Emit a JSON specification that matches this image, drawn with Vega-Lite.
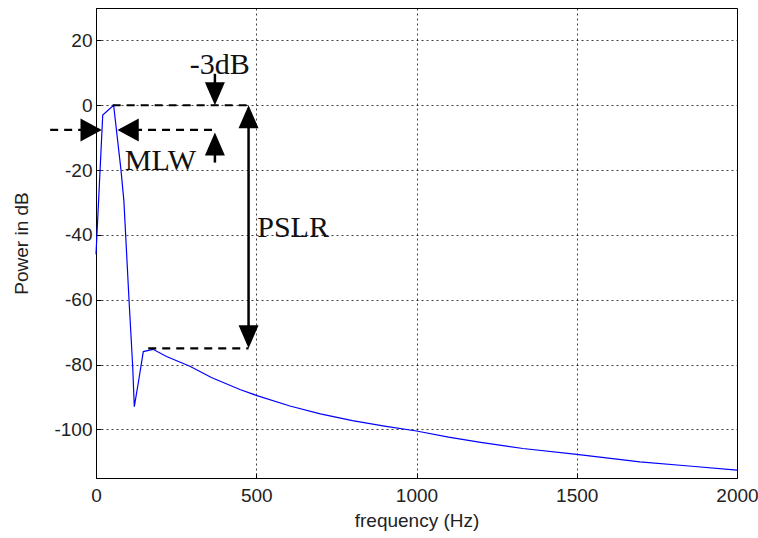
{
  "$schema": "https://vega.github.io/schema/vega-lite/v6.json",
  "width": 641,
  "height": 470,
  "autosize": "none",
  "padding": {"left": 96, "top": 8, "right": 21, "bottom": 60},
  "background": "white",
  "config": {
    "view": {"stroke": "black", "strokeWidth": 1},
    "axis": {
      "domainColor": "black",
      "tickColor": "black",
      "tickSize": -5,
      "labelColor": "#222",
      "titleColor": "#222",
      "labelFont": "Liberation Sans",
      "titleFont": "Liberation Sans",
      "labelFontSize": 19,
      "titleFontSize": 19,
      "titleFontWeight": "normal",
      "labelFlush": false,
      "labelOverlap": false,
      "labelBound": false,
      "labelExpr": "datum.value + ''",
      "gridColor": "black",
      "gridDash": [2, 3],
      "gridOpacity": 0.75,
      "gridWidth": 1
    }
  },
  "datasets": {
    "curve": [
      {"f": 0, "db": -46}, {"f": 21, "db": -3}, {"f": 55, "db": 0},
      {"f": 78, "db": -20}, {"f": 87, "db": -29.5}, {"f": 103, "db": -60},
      {"f": 114.5, "db": -80.6}, {"f": 119.5, "db": -93}, {"f": 133, "db": -85},
      {"f": 147.6, "db": -76}, {"f": 178, "db": -75.3}, {"f": 220, "db": -77.5},
      {"f": 293, "db": -80.5}, {"f": 360, "db": -84}, {"f": 449, "db": -87.7},
      {"f": 500, "db": -89.5}, {"f": 605, "db": -92.8}, {"f": 700, "db": -95.2},
      {"f": 800, "db": -97.3}, {"f": 900, "db": -99}, {"f": 1000, "db": -100.5},
      {"f": 1100, "db": -102.4}, {"f": 1200, "db": -104}, {"f": 1332, "db": -105.9},
      {"f": 1500, "db": -107.7}, {"f": 1697, "db": -110}, {"f": 1850, "db": -111.3},
      {"f": 2000, "db": -112.6}
    ],
    "dashed": [
      {"f": 52, "f2": 476, "db": 0, "db2": 0},
      {"f": -143, "f2": 10, "db": -7.6, "db2": -7.6},
      {"f": 75, "f2": 366, "db": -7.6, "db2": -7.6},
      {"f": 163, "f2": 476, "db": -75, "db2": -75}
    ],
    "solid": [
      {"f": 476, "f2": 476, "db": -2, "db2": -73},
      {"f": 371, "f2": 371, "db": 9.7, "db2": 6.5},
      {"f": 371, "f2": 371, "db": -14.5, "db2": -17.7}
    ],
    "arrows": [
      {"f": 371, "db": 0, "dir": "down"},
      {"f": 371, "db": -8.4, "dir": "up"},
      {"f": 18, "db": -7.6, "dir": "right"},
      {"f": 67, "db": -7.6, "dir": "left"},
      {"f": 476, "db": 0, "dir": "up"},
      {"f": 476, "db": -75, "dir": "down"}
    ],
    "labels": [
      {"f": 386, "db": 9.6, "text": "-3dB"},
      {"f": 201, "db": -20.1, "text": "MLW"},
      {"f": 615, "db": -40.6, "text": "PSLR"}
    ]
  },
  "encoding": {
    "x": {
      "field": "f", "type": "quantitative",
      "scale": {"domain": [0, 2000], "nice": false, "zero": false},
      "axis": {"title": "frequency (Hz)", "values": [0, 500, 1000, 1500, 2000], "labelPadding": 13, "titlePadding": 6}
    },
    "y": {
      "field": "db", "type": "quantitative",
      "scale": {"domain": [-115, 30], "nice": false, "zero": false},
      "axis": {"title": "Power in dB", "values": [-100, -80, -60, -40, -20, 0, 20], "labelPadding": 9, "titlePadding": 22}
    }
  },
  "layer": [
    {
      "data": {"name": "curve"},
      "mark": {"type": "line", "color": "#0000ff", "strokeWidth": 1.2}
    },
    {
      "data": {"name": "dashed"},
      "mark": {"type": "rule", "color": "black", "strokeWidth": 2.2, "strokeDash": [8, 6]},
      "encoding": {"x2": {"field": "f2"}, "y2": {"field": "db2"}}
    },
    {
      "data": {"name": "solid"},
      "mark": {"type": "rule", "color": "black", "strokeWidth": 2.5},
      "encoding": {"x2": {"field": "f2"}, "y2": {"field": "db2"}}
    },
    {
      "data": {"name": "arrows"},
      "mark": {"type": "point", "filled": true, "fill": "black", "strokeWidth": 0, "opacity": 1, "size": 529},
      "encoding": {
        "shape": {
          "field": "dir", "type": "nominal", "legend": null,
          "scale": {
            "domain": ["down", "up", "right", "left"],
            "range": ["M0,0L-0.87,-2L0.87,-2Z", "M0,0L-0.87,2L0.87,2Z", "M0,0L-1.85,-1L-1.85,1Z", "M0,0L1.85,-1L1.85,1Z"]
          }
        }
      }
    },
    {
      "data": {"name": "labels"},
      "mark": {"type": "text", "font": "Liberation Serif", "fontSize": 30, "align": "center", "baseline": "alphabetic", "color": "#111"},
      "encoding": {"text": {"field": "text"}}
    }
  ]
}
